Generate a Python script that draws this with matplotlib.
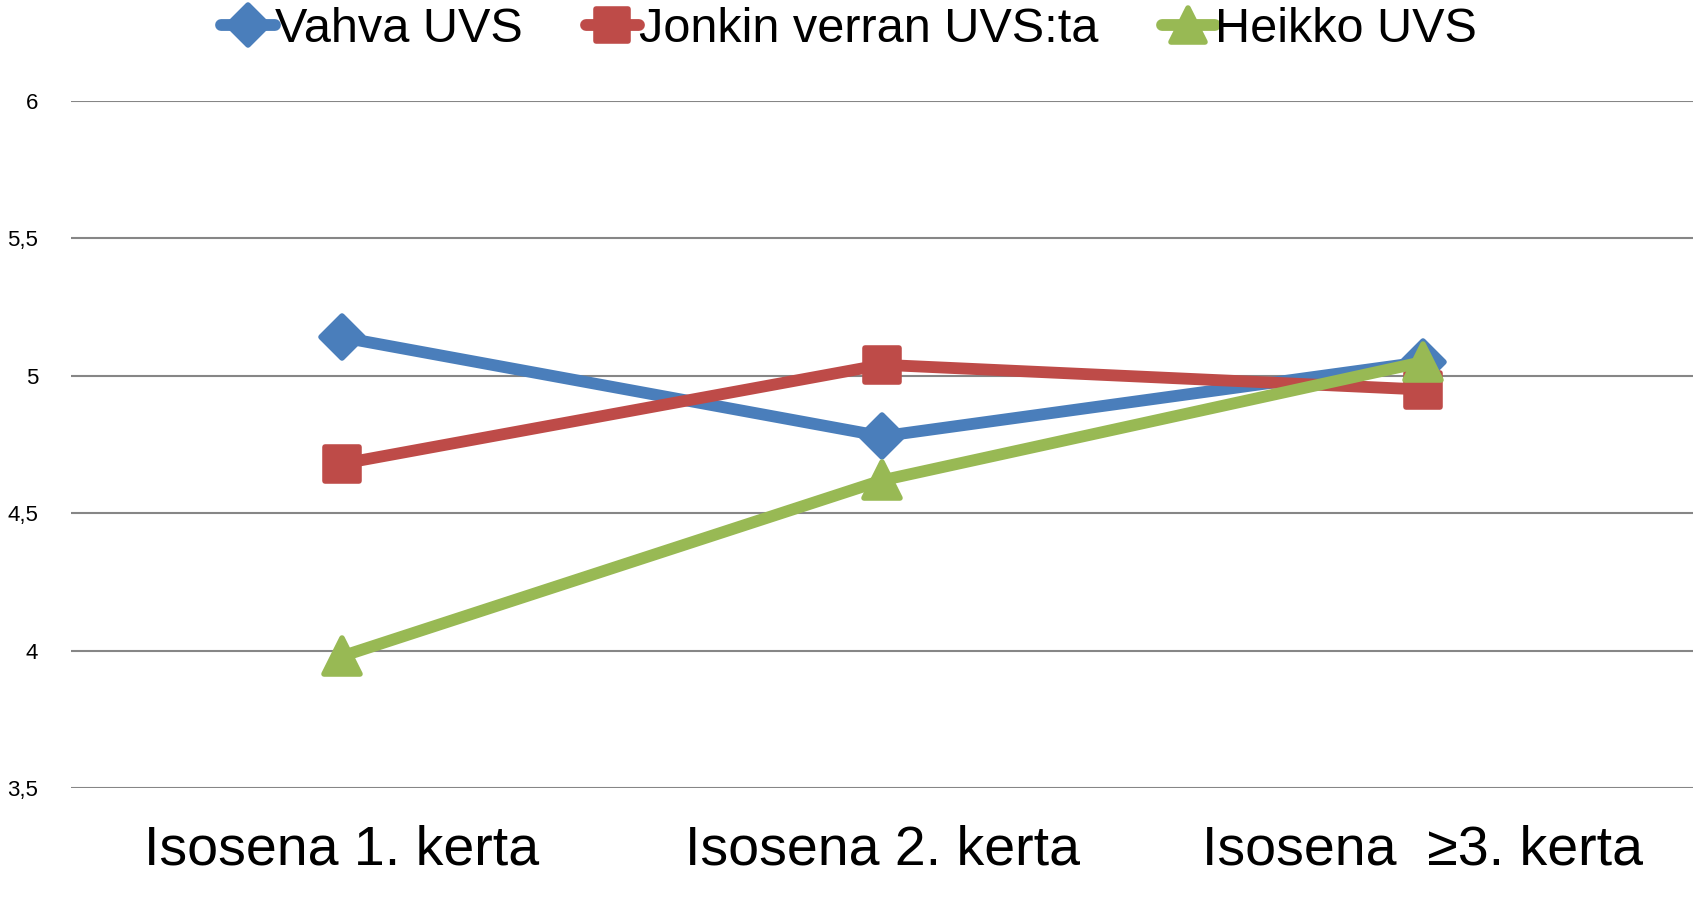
import matplotlib
matplotlib.use("Agg")
import matplotlib.pyplot as plt
from matplotlib.markers import MarkerStyle

plt.rcParams['font.family'] = ['Liberation Sans', 'DejaVu Sans']

categories = ["Isosena 1. kerta", "Isosena 2. kerta", "Isosena  \u22653. kerta"]
vahva = [5.14, 4.78, 5.05]
jonkin = [4.68, 5.04, 4.95]
heikko = [3.98, 4.62, 5.05]
yticks = [3.5, 4, 4.5, 5, 5.5, 6]
ytick_labels = ["3,5", "4", "4,5", "5", "5,5", "6"]

fig = plt.figure(figsize=(16.98, 8.99), dpi=100)
ax = fig.add_axes([0.042, 0.123, 0.955, 0.765])

x = range(len(categories))
series = [
    (vahva, '#4A7EBB', 'D', 21, 'Vahva UVS'),
    (jonkin, '#BE4B48', 's', 25, 'Jonkin verran UVS:ta'),
    (heikko, '#98B954', '^', 26, 'Heikko UVS'),
]
for i, (vals, col, mk, ms, lab) in enumerate(series):
    ax.plot(x, vals, color=col, lw=8.5, marker=MarkerStyle(mk, joinstyle='round'),
            ms=ms, mew=4, mec=col, label=lab, zorder=3 + i,
            solid_joinstyle='round', solid_capstyle='round')

ax.set_xlim(-0.5, 2.5)
ax.set_ylim(3.5, 6)
ax.set_yticks(yticks)
ax.set_yticklabels(ytick_labels, fontsize=16)
ax.set_xticks(list(x))
ax.set_xticklabels(categories, fontsize=40)
ax.tick_params(axis='both', length=0)
ax.tick_params(axis='x', pad=26)
ax.tick_params(axis='y', pad=24)
ax.grid(axis='y', color='#868686', lw=1.5)
ax.set_axisbelow(True)
for s in ax.spines.values():
    s.set_visible(False)

fig.legend(loc='center', bbox_to_anchor=(0.5, 1 - 30 / 899), ncol=3,
           frameon=False, fontsize=35, handlelength=1.1, handletextpad=0.0,
           columnspacing=1.3, markerscale=0.95)

fig.savefig("out.png", dpi=100)
